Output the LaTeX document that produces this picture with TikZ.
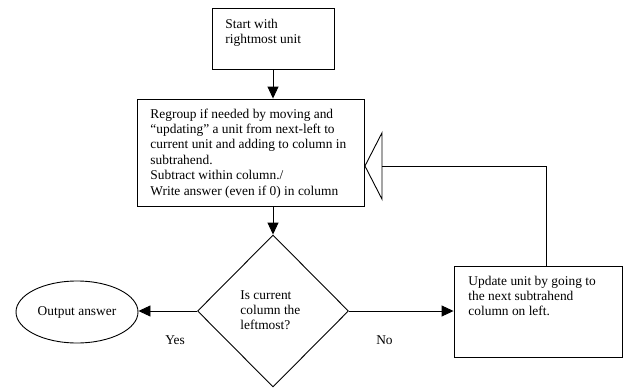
\documentclass[tikz,border=0pt]{standalone}
\usepackage{fontspec}
\setmainfont{Liberation Serif}
\usetikzlibrary{shapes.geometric,arrows.meta}
% left-aligned stack of lines whose baseline is the first line's baseline
\newcommand\stacklines[1]{\vtop{\halign{##\hfil\cr#1\crcr}}}
\begin{document}
\begin{tikzpicture}[x=1pt,y=-1pt,
  font=\fontsize{13.4}{15.4}\selectfont,
  line width=0.9pt,
  box/.style={draw,rectangle,inner sep=0pt},
  txt/.style={anchor=base west,inner sep=0pt},
  lbl/.style={anchor=base,inner sep=0pt},
  flow/.style={-{Triangle[length=12pt,width=11pt]}},
  back/.style={-{Triangle[open,length=18pt,width=70pt]}}]
\useasboundingbox (0,0) rectangle (623,388);

% boxes and shapes
\node[box,minimum width=122pt,minimum height=61pt] (start) at (273,38.5) {};
\node[box,minimum width=227pt,minimum height=107pt] (regroup) at (250.5,152.5) {};
\node[draw,diamond,inner sep=0pt,minimum width=151pt,minimum height=152pt] (test) at (273,311) {};
\node[draw,ellipse,inner sep=0pt,minimum width=122pt,minimum height=62pt] (out) at (77,312) {Output answer};
\node[box,minimum width=168pt,minimum height=91pt] (update) at (538,311.5) {};

% texts
\node[txt] (starttxt) at (225,28) {\stacklines{Start with\cr rightmost unit}};
\node[txt] (regrouptxt) at (150,118) {\stacklines{%
Regroup if needed by moving and\cr
“updating” a unit from next-left to\cr
current unit and adding to column in\cr
subtrahend.\cr
Subtract within column./\cr
Write answer (even if 0) in column}};
\node[txt] (testtxt) at (240,299) {\stacklines{Is current\cr column the\cr leftmost?}};
\node[txt] (updatetxt) at (468,285) {\stacklines{Update unit by going to\cr the next subtrahend\cr column on left.}};
\node[lbl] (yes) at (175,344) {Yes};
\node[lbl] (no) at (384.5,344) {No};

% connectors
\draw[flow] (start.south) -- (start.south |- regroup.north);
\draw[flow] (regroup.south -| test.north) -- (test.north);
\draw[flow] (test.west) -- (out.east |- test.west);
\draw[flow] (test.east) -- (update.west |- test.east);
\coordinate (turn) at (546,166);
\draw[back] (update.north -| turn) -- (turn) -- (regroup.east |- turn);
\end{tikzpicture}
\end{document}
